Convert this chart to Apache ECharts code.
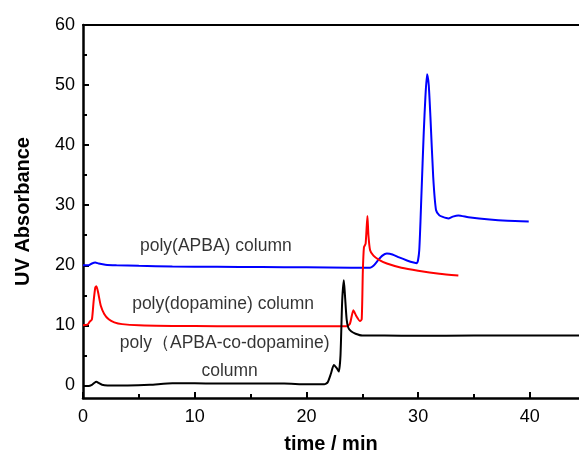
<!DOCTYPE html>
<html>
<head>
<meta charset="utf-8">
<script src="https://cdn.jsdelivr.net/npm/echarts@6/dist/echarts.min.js"></script>
<style>
  html, body { margin: 0; padding: 0; background: #fff; }
  #chart { width: 579px; height: 455px; }
</style>
</head>
<body>
<div id="chart"></div>
<script>
// Chromatograms: UV absorbance vs elution time for three columns.
const apbaTime = [0, 0.5, 0.8, 1.1, 1.4, 2, 3, 5, 8, 12, 16, 20, 24, 25.7, 26.0, 26.4, 26.8, 27.2, 27.7, 28.3, 29.0, 29.6, 29.9, 30.1, 30.3, 30.5, 30.65, 30.8, 30.95, 31.1, 31.35, 31.6, 31.9, 32.2, 32.7, 33.1, 33.6, 34.5, 36.4, 38, 39.9];
const apbaAbs  = [20.0, 20.0, 20.3, 20.45, 20.3, 20.1, 20.0, 19.9, 19.8, 19.75, 19.7, 19.65, 19.6, 19.6, 19.9, 20.8, 21.6, 21.95, 21.8, 21.3, 20.8, 20.45, 20.35, 22.5, 32, 42, 48, 51.8, 50, 44.7, 34.7, 29.2, 28.3, 28.05, 27.8, 28.1, 28.3, 28.0, 27.6, 27.4, 27.3];

const dopaTime = [0, 0.4, 0.6, 0.8, 0.95, 1.1, 1.2, 1.35, 1.6, 1.9, 2.3, 2.8, 3.5, 5, 8, 12, 16, 20, 23.6, 23.9, 24.2, 24.45, 24.8, 24.95, 25.05, 25.15, 25.3, 25.46, 25.55, 25.7, 26.0, 26.5, 27.2, 28.5, 30, 31.9, 33.6];
const dopaAbs  = [10.0, 10.1, 10.6, 11.0, 14, 16.3, 16.5, 15.5, 13.2, 11.9, 11.0, 10.5, 10.2, 10.0, 9.9, 9.85, 9.85, 9.85, 9.85, 10.3, 12.5, 11.6, 10.7, 11.0, 19, 23, 23.6, 28.2, 25, 22.5, 21.6, 20.9, 20.3, 19.6, 19.1, 18.6, 18.3];

const copoTime = [0, 0.5, 0.8, 1.0, 1.2, 1.4, 1.7, 2.2, 4, 6, 8, 10, 12, 14, 16, 18, 20, 21.6, 21.9, 22.2, 22.45, 22.7, 22.9, 23.05, 23.2, 23.35, 23.45, 23.6, 23.75, 24.0, 24.4, 25, 27, 30, 35, 40, 44.4];
const copoAbs  = [-0.1, -0.1, 0.1, 0.4, 0.6, 0.4, 0.1, 0.0, 0.0, 0.1, 0.35, 0.35, 0.3, 0.3, 0.3, 0.3, 0.2, 0.2, 0.5, 2.0, 3.4, 2.9, 2.3, 5, 14, 17.5, 15, 11, 9.6, 9.0, 8.6, 8.3, 8.3, 8.25, 8.3, 8.3, 8.3];

const xMajorTicks = [0, 10, 20, 30, 40];
const xMinorTicks = [5, 15, 25, 35];
const yMajorTicks = [0, 10, 20, 30, 40, 50, 60];
const yMinorTicks = [5, 15, 25, 35, 45, 55];

// Curve annotations, anchored at their left edge / vertical centre in data units.
const curveLabels = [
  { text: 'poly(APBA) column', x: 5.1, y: 23.2 },
  { text: 'poly(dopamine) column', x: 4.4, y: 13.45 },
  { text: 'poly\uFF08APBA-co-dopamine)', x: 3.3, y: 6.95 },
  { text: 'column', x: 10.6, y: 2.4 }
];

const pair = (xs, ys) => xs.map((x, i) => [x, ys[i]]);

const X_MIN = 0, X_MAX = 44.4, Y_MIN = -2.1, Y_MAX = 60;
const FONT = 'Liberation Sans, Arial, sans-serif';
const AXIS_W = 2.5;

const chart = echarts.init(document.getElementById('chart'), null, { renderer: 'canvas' });

const baseX = { type: 'value', min: X_MIN, max: X_MAX, splitLine: { show: false }, minorTick: { show: false } };
const baseY = { type: 'value', min: Y_MIN, max: Y_MAX, splitLine: { show: false }, minorTick: { show: false } };

chart.setOption({
  animation: false,
  backgroundColor: '#fff',
  grid: { left: 83, right: 0, top: 25, bottom: 57, outerBoundsMode: 'none', containLabel: false },
  xAxis: [
    Object.assign({}, baseX, {
      position: 'bottom',
      name: 'time / min',
      nameLocation: 'middle',
      nameGap: 36,
      nameTextStyle: { fontFamily: FONT, fontSize: 20, fontWeight: 'bold', color: '#000' },
      axisLine: { show: true, onZero: false, lineStyle: { color: '#000', width: AXIS_W } },
      axisTick: { show: true, inside: true, length: 6, customValues: xMajorTicks, lineStyle: { color: '#000', width: 2 } },
      axisLabel: { show: true, customValues: xMajorTicks, margin: 10, fontFamily: FONT, fontSize: 18, color: '#000' }
    }),
    Object.assign({}, baseX, {
      position: 'bottom',
      axisLine: { show: false, onZero: false },
      axisTick: { show: true, inside: true, length: 4, customValues: xMinorTicks, lineStyle: { color: '#000', width: 2 } },
      axisLabel: { show: false }
    }),
    Object.assign({}, baseX, {
      position: 'top',
      axisLine: { show: true, onZero: false, lineStyle: { color: '#000', width: 2 } },
      axisTick: { show: false },
      axisLabel: { show: false }
    })
  ],
  yAxis: [
    Object.assign({}, baseY, {
      position: 'left',
      name: 'UV Absorbance',
      nameLocation: 'middle',
      nameGap: 50,
      nameRotate: 90,
      nameTextStyle: { fontFamily: FONT, fontSize: 20, fontWeight: 'bold', color: '#000' },
      axisLine: { show: true, onZero: false, lineStyle: { color: '#000', width: AXIS_W } },
      axisTick: { show: true, inside: true, length: 6, customValues: yMajorTicks, lineStyle: { color: '#000', width: 2 } },
      axisLabel: { show: true, customValues: yMajorTicks, margin: 8, fontFamily: FONT, fontSize: 18, color: '#000' }
    }),
    Object.assign({}, baseY, {
      position: 'left',
      axisLine: { show: false, onZero: false },
      axisTick: { show: true, inside: true, length: 4, customValues: yMinorTicks, lineStyle: { color: '#000', width: 2 } },
      axisLabel: { show: false }
    })
  ],
  series: [
    {
      type: 'line', name: 'poly(APBA)', data: pair(apbaTime, apbaAbs),
      showSymbol: false, clip: false, smooth: 0.2,
      lineStyle: { color: '#0000ff', width: 2 }, z: 3
    },
    {
      type: 'line', name: 'poly(dopamine)', data: pair(dopaTime, dopaAbs),
      showSymbol: false, clip: false, smooth: 0.2,
      lineStyle: { color: '#ff0000', width: 2 }, z: 4
    },
    {
      type: 'line', name: 'poly(APBA-co-dopamine)', data: pair(copoTime, copoAbs),
      showSymbol: false, clip: false, smooth: 0.2,
      lineStyle: { color: '#000000', width: 2 }, z: 5
    },
    {
      type: 'scatter', name: 'labels', symbolSize: 0, silent: true,
      data: curveLabels.map(l => ({ value: [l.x, l.y], name: l.text })),
      label: {
        show: true, position: 'right', distance: 0,
        formatter: p => p.name,
        fontFamily: FONT, fontSize: 17.5, color: '#000'
      },
      z: 6
    }
  ]
});
</script>
</body>
</html>
